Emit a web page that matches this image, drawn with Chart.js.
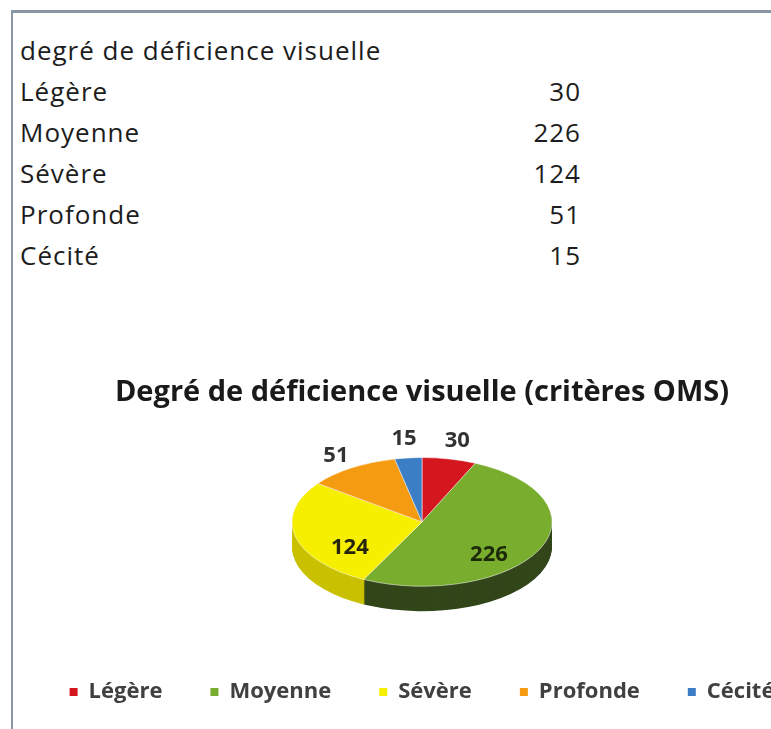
<!DOCTYPE html>
<html lang="fr">
<head>
<meta charset="utf-8">
<title>Degré de déficience visuelle</title>
<script src="https://cdn.jsdelivr.net/npm/chart.js@4/dist/chart.umd.min.js"></script>
<style>
  html, body { margin: 0; padding: 0; background: #fff; width: 771px; height: 729px; overflow: hidden; }
  #frame { position: absolute; left: 11px; top: 10px; width: 820px; height: 760px;
           border-top: 3px solid #8996a4; border-left: 2px solid #8996a4; }
  #grid { position: absolute; left: 20px; top: 29px; border-collapse: collapse;
          font-family: "Open Sans", sans-serif; font-size: 26px; letter-spacing: 1px; color: #1c1c1c; }
  #grid td { height: 41px; padding: 0; white-space: nowrap; }
  #grid td.lbl { width: 460px; }
  #grid td.num { width: 101px; text-align: right; }
  #pieBox { position: absolute; left: 12px; top: 300px; width: 820px; height: 413px; }
</style>
</head>
<body>
<div id="frame"></div>
<table id="grid"></table>
<div id="pieBox"><canvas id="pie"></canvas></div>
<script>
const tableHeading = 'degré de déficience visuelle';
const chartTitle = 'Degré de déficience visuelle (critères OMS)';
const categories = ['Légère', 'Moyenne', 'Sévère', 'Profonde', 'Cécité'];
const counts = [30, 226, 124, 51, 15];

const topColors  = ['#d4171e', '#79ad2d', '#f6ef00', '#f49b12', '#3b7ec6'];
const sideColors = ['#8e1015', '#32461a', '#c9c100', '#b06c0a', '#275a92'];
const labelColors = ['#333333', '#1d2a0a', '#262610', '#333333', '#333333'];
const labelInside = [false, true, true, false, false];

// worksheet block above the chart
const grid = document.getElementById('grid');
grid.insertRow().insertCell().textContent = tableHeading;
categories.forEach((c, i) => {
  const r = grid.insertRow();
  const a = r.insertCell(); a.className = 'lbl'; a.textContent = c;
  const b = r.insertCell(); b.className = 'num'; b.textContent = counts[i];
});

const FLAT = 0.495;   // vertical squash of the disc
const DEPTH = 25;     // thickness of the side wall

function squash(ctx, x, y) {
  ctx.translate(x, y); ctx.scale(1, FLAT); ctx.translate(-x, -y);
}

const pie3d = {
  id: 'pie3d',
  beforeDatasetsDraw(chart) {
    const ctx = chart.ctx;
    const arcs = chart.getDatasetMeta(0).data;
    const { x, y } = arcs[0];
    // side wall: stacked copies of each slice pushed down
    for (let d = DEPTH; d >= 1; d--) {
      ctx.save();
      ctx.translate(0, d);
      squash(ctx, x, y);
      arcs.forEach((a, i) => {
        ctx.beginPath();
        ctx.moveTo(a.x, a.y);
        ctx.arc(a.x, a.y, a.outerRadius, a.startAngle, a.endAngle);
        ctx.closePath();
        ctx.fillStyle = sideColors[i];
        ctx.fill();
      });
      ctx.restore();
    }
    ctx.save();
    squash(ctx, x, y);
  },
  afterDatasetsDraw(chart) {
    chart.ctx.restore();
  }
};

const valueLabels = {
  id: 'valueLabels',
  afterDraw(chart) {
    const ctx = chart.ctx;
    const arcs = chart.getDatasetMeta(0).data;
    ctx.save();
    ctx.font = 'bold 22px "Open Sans", sans-serif';
    ctx.textAlign = 'center';
    ctx.textBaseline = 'middle';
    arcs.forEach((a, i) => {
      const mid = (a.startAngle + a.endAngle) / 2;
      const c = Math.cos(mid), s = Math.sin(mid);
      let px, py;
      if (labelInside[i]) {
        px = a.x + c * a.outerRadius * 0.57;
        py = a.y + s * a.outerRadius * FLAT * 0.55 + 18;
      } else {
        const ex = c * a.outerRadius, ey = s * a.outerRadius * FLAT;
        const n = Math.hypot(ex, ey);
        px = a.x + ex + ex / n * 20;
        py = a.y + ey + ey / n * 20;
      }
      ctx.fillStyle = labelColors[i];
      ctx.fillText(String(counts[i]), px, py);
    });
    ctx.restore();
  }
};

new Chart(document.getElementById('pie'), {
  type: 'pie',
  data: {
    labels: categories,
    datasets: [{
      data: counts,
      backgroundColor: topColors,
      borderColor: 'rgba(255,255,255,0.7)',
      borderWidth: 1,
      radius: 130,
      clip: false
    }]
  },
  options: {
    responsive: true, maintainAspectRatio: false, animation: false,
    layout: { padding: 0 },
    plugins: {
      title: {
        display: true, text: chartTitle, color: '#1a1a1a',
        font: { family: '"Open Sans", sans-serif', size: 29, weight: 'bold' },
        padding: { top: 75, bottom: 1 }
      },
      legend: {
        position: 'bottom',
        labels: {
          color: '#404040',
          font: { family: '"Open Sans", sans-serif', size: 22, weight: 'bold' },
          usePointStyle: true, pointStyle: 'rect', pointStyleWidth: 8, boxHeight: 8,
          padding: 48,
          generateLabels(chart) {
            return Chart.overrides.pie.plugins.legend.labels.generateLabels(chart)
              .map(l => ({ ...l, lineWidth: 0, strokeStyle: 'transparent' }));
          }
        }
      },
      tooltip: { enabled: false }
    }
  },
  plugins: [pie3d, valueLabels]
});
</script>
</body>
</html>
